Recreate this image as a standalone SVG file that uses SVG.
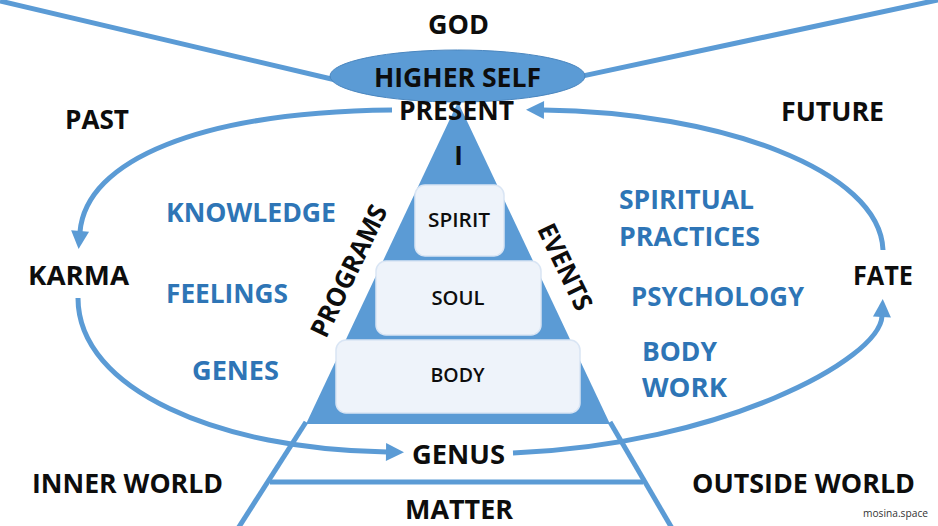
<svg xmlns="http://www.w3.org/2000/svg" width="938" height="526" viewBox="0 0 938 526">
<style>
.ln{fill:none;stroke:#5B9BD5;stroke-width:5}
.t{font-family:"Open Sans","Liberation Sans",sans-serif;font-weight:700;font-size:26px;fill:#0D0D0D}
.b{fill:#2E75B6}
.bx{fill:#EEF3FA;stroke:#D9E5F4;stroke-width:1.5}
.bt{font-family:"Open Sans","Liberation Sans",sans-serif;font-weight:600;font-size:19px;fill:#0D0D0D;text-anchor:middle}
.sm{font-family:"Open Sans","Liberation Sans",sans-serif;font-size:11px;fill:#333}
</style>
<defs>
<marker id="ah" markerUnits="userSpaceOnUse" markerWidth="20" markerHeight="20" refX="1" refY="9" orient="auto" overflow="visible">
<path d="M0,0 L18,9 L0,18 z" fill="#5B9BD5"/>
</marker>
</defs>
<rect width="938" height="526" fill="#fff"/>
<g id="connectors">
<line class="ln" x1="0" y1="1" x2="340" y2="81"/>
<line class="ln" x1="575" y1="77.6" x2="940" y2="-0.5"/>
<path class="ln" d="M392,110 C200,112 86,160 80,232" marker-end="url(#ah)"/>
<path class="ln" d="M78,298 C78,390 220,450 387,452" marker-end="url(#ah)"/>
<path class="ln" d="M513,453 C720,445 880,360 882,316" marker-end="url(#ah)"/>
<path class="ln" d="M883,250 C880,170 720,112 543,110" marker-end="url(#ah)"/>
<line class="ln" x1="306" y1="422" x2="237" y2="530"/>
<line class="ln" x1="610" y1="422" x2="673" y2="530"/>
<line class="ln" x1="270" y1="482" x2="643" y2="482"/>
</g>
<g id="pyramid">
<polygon points="458,102 306,424 610,424" fill="#5B9BD5"/>
</g>
<g id="higher-self">
<ellipse cx="457.5" cy="76" rx="127.5" ry="26" fill="#5B9BD5" stroke="#4A86BF" stroke-width="1"/>
<text class="t" x="374" y="87" textLength="167" lengthAdjust="spacingAndGlyphs">HIGHER SELF</text>
</g>
<g id="god"><text class="t" x="428" y="34" textLength="61" lengthAdjust="spacingAndGlyphs">GOD</text></g>
<g id="present"><text class="t" x="399" y="120" textLength="115" lengthAdjust="spacingAndGlyphs">PRESENT</text></g>
<g id="i"><text class="t" x="458.5" y="165" text-anchor="middle">I</text></g>
<g id="spirit">
<rect class="bx" x="415" y="185" width="89" height="71" rx="10"/>
<text class="bt" x="459" y="227" textLength="62" lengthAdjust="spacingAndGlyphs">SPIRIT</text>
</g>
<g id="soul">
<rect class="bx" x="376" y="261" width="165" height="74" rx="10"/>
<text class="bt" x="458" y="305" textLength="53" lengthAdjust="spacingAndGlyphs">SOUL</text>
</g>
<g id="body">
<rect class="bx" x="336" y="340" width="244" height="73" rx="10"/>
<text class="bt" x="457.5" y="382" textLength="54" lengthAdjust="spacingAndGlyphs">BODY</text>
</g>
<g id="programs"><text class="t" transform="translate(349,271) rotate(-64.3)" x="0" y="9" text-anchor="middle" textLength="143" lengthAdjust="spacingAndGlyphs">PROGRAMS</text></g>
<g id="events"><text class="t" transform="translate(565,267) rotate(64.3)" x="0" y="9" text-anchor="middle" textLength="93" lengthAdjust="spacingAndGlyphs">EVENTS</text></g>
<g id="past"><text class="t" x="65" y="129" textLength="64" lengthAdjust="spacingAndGlyphs">PAST</text></g>
<g id="future"><text class="t" x="781" y="121" textLength="103" lengthAdjust="spacingAndGlyphs">FUTURE</text></g>
<g id="karma"><text class="t" x="28" y="285" textLength="101" lengthAdjust="spacingAndGlyphs">KARMA</text></g>
<g id="fate"><text class="t" x="853" y="285" textLength="60" lengthAdjust="spacingAndGlyphs">FATE</text></g>
<g id="knowledge"><text class="t b" x="166" y="222" textLength="170" lengthAdjust="spacingAndGlyphs">KNOWLEDGE</text></g>
<g id="feelings"><text class="t b" x="166" y="303" textLength="122" lengthAdjust="spacingAndGlyphs">FEELINGS</text></g>
<g id="genes"><text class="t b" x="192" y="380" textLength="87" lengthAdjust="spacingAndGlyphs">GENES</text></g>
<g id="spiritual-practices">
<text class="t b" x="619" y="209" textLength="135" lengthAdjust="spacingAndGlyphs">SPIRITUAL</text>
<text class="t b" x="619" y="246" textLength="141" lengthAdjust="spacingAndGlyphs">PRACTICES</text>
</g>
<g id="psychology"><text class="t b" x="631" y="306" textLength="173" lengthAdjust="spacingAndGlyphs">PSYCHOLOGY</text></g>
<g id="body-work">
<text class="t b" x="642" y="361" textLength="75" lengthAdjust="spacingAndGlyphs">BODY</text>
<text class="t b" x="642" y="397" textLength="85" lengthAdjust="spacingAndGlyphs">WORK</text>
</g>
<g id="inner-world"><text class="t" x="32" y="493" textLength="191" lengthAdjust="spacingAndGlyphs">INNER WORLD</text></g>
<g id="outside-world"><text class="t" x="692" y="493" textLength="223" lengthAdjust="spacingAndGlyphs">OUTSIDE WORLD</text></g>
<g id="genus"><text class="t" x="412" y="464" textLength="93" lengthAdjust="spacingAndGlyphs">GENUS</text></g>
<g id="matter"><text class="t" x="405" y="519" textLength="108" lengthAdjust="spacingAndGlyphs">MATTER</text></g>
<text class="sm" x="863" y="517" textLength="65" lengthAdjust="spacingAndGlyphs">mosina.space</text>
</svg>
